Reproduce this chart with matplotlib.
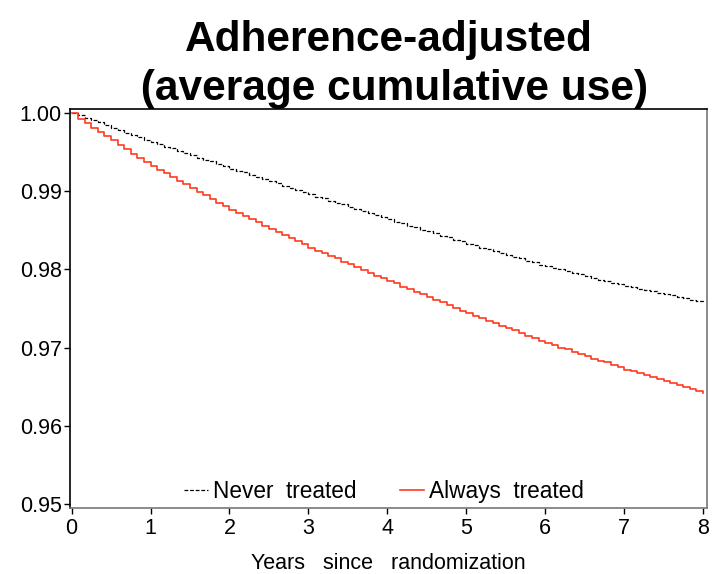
import numpy as np
import matplotlib.pyplot as plt

plt.rcParams['font.family'] = ['Liberation Sans', 'DejaVu Sans']

# monthly time grid, 0..8 years
months = np.arange(97)
years = months / 12

never_treated = [
    1.0000, 0.9997, 0.9994, 0.9991, 0.9988, 0.9985, 0.9981, 0.9978, 0.9975, 0.9972, 0.9969, 0.9966, 0.9963,
    0.9960, 0.9957, 0.9955, 0.9952, 0.9949, 0.9946, 0.9943, 0.9940, 0.9938, 0.9935, 0.9932, 0.9929,
    0.9926, 0.9924, 0.9921, 0.9918, 0.9915, 0.9913, 0.9910, 0.9907, 0.9904, 0.9902, 0.9899, 0.9896,
    0.9893, 0.9891, 0.9888, 0.9885, 0.9883, 0.9880, 0.9877, 0.9875, 0.9872, 0.9869, 0.9867, 0.9864,
    0.9861, 0.9859, 0.9856, 0.9854, 0.9851, 0.9849, 0.9846, 0.9843, 0.9841, 0.9838, 0.9836, 0.9833,
    0.9831, 0.9828, 0.9826, 0.9823, 0.9821, 0.9819, 0.9816, 0.9814, 0.9811, 0.9809, 0.9806, 0.9804,
    0.9802, 0.9800, 0.9798, 0.9796, 0.9794, 0.9792, 0.9789, 0.9787, 0.9785, 0.9783, 0.9781, 0.9779,
    0.9777, 0.9775, 0.9774, 0.9772, 0.9770, 0.9768, 0.9767, 0.9765, 0.9763, 0.9761, 0.9760, 0.9758,
]

always_treated = [
    1.0000, 0.9992, 0.9987, 0.9981, 0.9976, 0.9970, 0.9965, 0.9959, 0.9954, 0.9948, 0.9943, 0.9937, 0.9932,
    0.9927, 0.9923, 0.9918, 0.9913, 0.9909, 0.9904, 0.9899, 0.9895, 0.9890, 0.9885, 0.9881, 0.9876,
    0.9872, 0.9868, 0.9864, 0.9860, 0.9856, 0.9852, 0.9848, 0.9844, 0.9840, 0.9836, 0.9832, 0.9828,
    0.9824, 0.9821, 0.9817, 0.9814, 0.9810, 0.9807, 0.9803, 0.9799, 0.9796, 0.9792, 0.9789, 0.9785,
    0.9782, 0.9778, 0.9775, 0.9771, 0.9768, 0.9765, 0.9761, 0.9758, 0.9754, 0.9751, 0.9747, 0.9744,
    0.9741, 0.9738, 0.9734, 0.9731, 0.9728, 0.9725, 0.9722, 0.9719, 0.9715, 0.9712, 0.9709, 0.9706,
    0.9703, 0.9700, 0.9698, 0.9695, 0.9692, 0.9689, 0.9686, 0.9683, 0.9681, 0.9678, 0.9675, 0.9672,
    0.9670, 0.9667, 0.9665, 0.9662, 0.9660, 0.9657, 0.9655, 0.9652, 0.9650, 0.9647, 0.9645, 0.9642,
]

x_ticks = [0, 1, 2, 3, 4, 5, 6, 7, 8]
y_ticks = [0.95, 0.96, 0.97, 0.98, 0.99, 1.00]
y_labels = ['0.95', '0.96', '0.97', '0.98', '0.99', '1.00']

fig = plt.figure(figsize=(7.27, 5.74), dpi=100)
ax = fig.add_axes([0.0963, 0.115, 0.8762, 0.695])

ax.step(years, never_treated, where='post', color='black', lw=0.9,
        linestyle=(0, (3, 1.5)), label='Never  treated')
ax.step(years, always_treated, where='post', color='#ff3b1f', lw=1.2,
        label='Always  treated')

ax.set_xlim(-0.02, 8.05)
ax.set_ylim(0.9495, 1.0005)
ax.set_xticks(x_ticks)
ax.set_yticks(y_ticks)
ax.set_yticklabels(y_labels)
ax.tick_params(direction='out', length=4, width=1, labelsize=15.5, pad=2)
ax.tick_params(axis='x', pad=3)
for s in ax.spines.values():
    s.set_linewidth(1.2)
ax.spines['right'].set_color('#777777')
ax.spines['bottom'].set_color('#777777')

ax.set_xlabel('Years   since   randomization', fontsize=15.5, labelpad=10)

ax.legend(loc='lower center', ncol=2, frameon=False, fontsize=16.3,
          handlelength=1.05, handletextpad=0.25, columnspacing=1.9,
          borderaxespad=0.0, bbox_to_anchor=(0.493, -0.01))

ax.set_title('Adherence-adjusted\n (average cumulative use)', fontsize=30.5,
             fontweight='bold', linespacing=1.3, pad=6)

fig.savefig('out.png', dpi=100)
